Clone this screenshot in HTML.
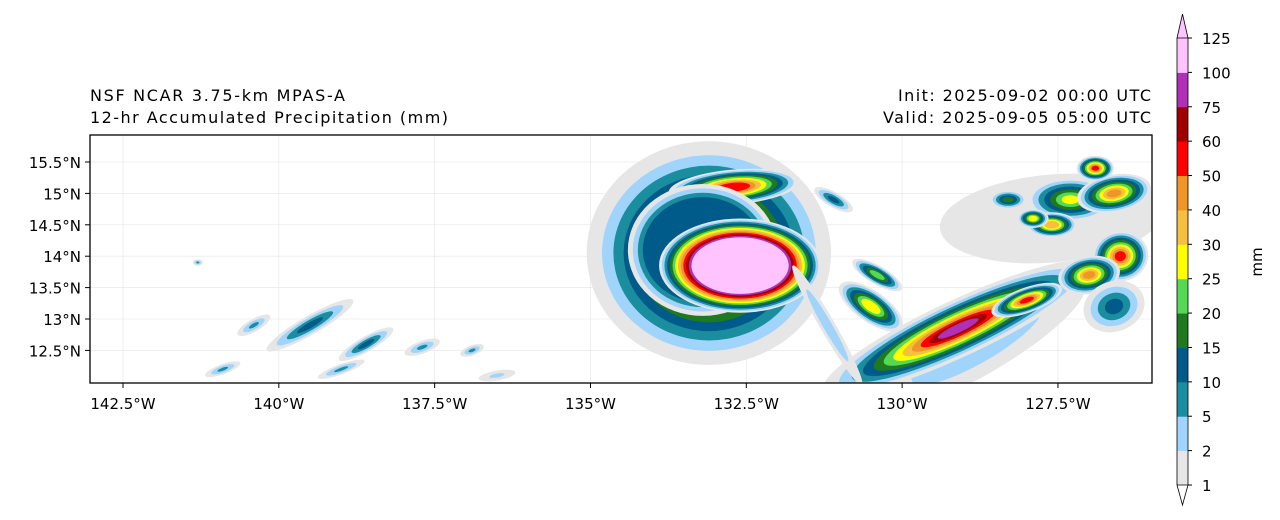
<!DOCTYPE html>
<html><head><meta charset="utf-8"><style>
body{margin:0;background:#fff;}
svg{display:block;font-family:"DejaVu Sans","Liberation Sans",sans-serif;}
</style></head><body>
<svg id="chart" width="1280" height="520" viewBox="0 0 1280 520">
<text x="90" y="101" font-size="16" textLength="255" lengthAdjust="spacing">NSF NCAR 3.75-km MPAS-A</text>
<text x="90" y="123" font-size="16" textLength="358" lengthAdjust="spacing">12-hr Accumulated Precipitation (mm)</text>
<text x="898" y="101" font-size="16" textLength="253" lengthAdjust="spacing">Init: 2025-09-02 00:00 UTC</text>
<text x="883" y="123" font-size="16" textLength="268" lengthAdjust="spacing">Valid: 2025-09-05 05:00 UTC</text>
<defs><clipPath id="mapclip"><rect x="90" y="135" width="1062" height="248"/></clipPath></defs>
<g id="grid"></g>
<g id="fields" clip-path="url(#mapclip)"></g>
<rect x="90" y="135" width="1062" height="248" fill="none" stroke="#000" stroke-width="1.3"/>
<g id="axes"></g>
<g id="cbar"></g>
<text x="1262" y="262" font-size="15" transform="rotate(-90 1262 262)" text-anchor="middle">mm</text>
</svg>
<script>
const levels=[1,2,5,10,15,20,25,30,40,50,60,75,100,125];
const colors=["#e6e6e6","#a0d4fa","#1a8e9e","#005a8a","#1f7a1f","#55d855","#ffff00","#f5c040","#f09628","#ff0000","#a00000","#b030b8","#ffc4ff","#ffc4ff"];
const lonTicks=[-142.5,-140,-137.5,-135,-132.5,-130,-127.5];
const lonLabels=["142.5°W","140°W","137.5°W","135°W","132.5°W","130°W","127.5°W"];
const latTicks=[15.5,15,14.5,14,13.5,13,12.5];
const latLabels=["15.5°N","15°N","14.5°N","14°N","13.5°N","13°N","12.5°N"];
// precipitation systems: center lon, lat, half-extent lon/lat (deg), tilt (deg), max color index, core fraction, falloff exponent
const blobLon=[-127.6,-128.8,-133.1,-132.7,-133.2,-132.6,-129.1,-128.0,-130.5,-127.3,-126.6,-127.6,-126.5,-127.0,-128.3,-127.9,-126.9,-126.6,-130.4,-131.1,-139.5,-138.6,-137.7,-140.4,-136.9,-141.3,-140.9,-139.0,-136.5,-131.2];
const blobLat=[14.6,12.6,14.05,15.1,14.1,13.85,12.85,13.3,13.2,14.9,15.0,14.5,14.0,13.7,14.9,14.6,15.4,13.2,13.7,14.9,12.9,12.6,12.55,12.9,12.5,13.9,12.2,12.2,12.1,12.9];
const blobRLon=[1.8,2.0,1.96,1.05,1.2,1.3,2.4,0.6,0.25,0.7,0.6,0.4,0.45,0.5,0.3,0.25,0.3,0.5,0.15,0.12,0.8,0.5,0.3,0.3,0.2,0.08,0.3,0.4,0.3,0.12];
const blobRLat=[0.7,0.5,1.78,0.28,1.05,0.75,0.45,0.2,0.6,0.35,0.3,0.2,0.4,0.3,0.15,0.15,0.2,0.4,0.45,0.35,0.15,0.12,0.1,0.1,0.08,0.05,0.08,0.08,0.08,1.1];
const blobTilt=[-5,-30,0,-5,0,0,-25,-20,-55,0,-10,0,-10,-10,0,0,0,-20,-60,-60,-30,-30,-20,-30,-20,0,-20,-20,-10,-30];
const blobMax=[0,1,4,9,3,12,11,9,6,6,8,7,9,8,4,6,9,3,5,3,3,3,2,2,2,2,2,2,1,1];
const blobCore=[1,0.6,0.62,0.25,0.8,0.6,0.15,0.2,0.3,0.2,0.2,0.3,0.2,0.2,0.3,0.3,0.2,0.3,0.3,0.3,0.3,0.3,0.3,0.3,0.3,0.3,0.3,0.3,0.4,0.6];
const blobPow=[1,1,0.8,1,1,1,0.8,1,1,1,1,1,1,1,1,1,1,1,1,1,1,1,1,1,1,1,1,1,1,1];

const X=lon=>123+(lon+142.5)*62.33;
const Y=lat=>162+(15.5-lat)*62.8;
const NS="http://www.w3.org/2000/svg";
function mk(tag,parent,attrs){const e=document.createElementNS(NS,tag);for(const k in attrs)e.setAttribute(k,attrs[k]);parent.appendChild(e);return e;}

const grid=document.getElementById('grid');
lonTicks.forEach(l=>{const g=mk('line',grid,{x1:X(l),x2:X(l),y1:135,y2:383,stroke:"#e4e4e4","stroke-width":0.6});

});
latTicks.forEach(l=>{const g=mk('line',grid,{x1:90,x2:1152,y1:Y(l),y2:Y(l),stroke:"#e4e4e4","stroke-width":0.6});

});

const fields=document.getElementById('fields');
for(let i=0;i<blobLon.length;i++){
  const g=mk('g',fields,{transform:`rotate(${blobTilt[i]} ${X(blobLon[i])} ${Y(blobLat[i])})`});
  
  
  const m=blobMax[i];
  for(let k=0;k<=m;k++){
    const f=m===0?1:1-(1-blobCore[i])*Math.pow(k/m,blobPow[i]);
    const e=mk('ellipse',g,{cx:X(blobLon[i]),cy:Y(blobLat[i]),rx:blobRLon[i]*62.33*f,ry:blobRLat[i]*62.8*f,fill:colors[k]});
    
    
  }
}

const axes=document.getElementById('axes');
lonTicks.forEach((l,i)=>{
  mk('line',axes,{x1:X(l),x2:X(l),y1:383,y2:388,stroke:"#000"});
  const t=mk('text',axes,{x:X(l),y:409,"font-size":15,"text-anchor":"middle"});t.textContent=lonLabels[i];
  
  
});
latTicks.forEach((l,i)=>{
  mk('line',axes,{x1:85,x2:90,y1:Y(l),y2:Y(l),stroke:"#000"});
  const t=mk('text',axes,{x:81,y:Y(l)+6,"font-size":15,"text-anchor":"end"});t.textContent=latLabels[i];
  
  
});

const cb=document.getElementById('cbar');
const cx0=1177,cw=11,cTop=38,cBot=485;
const step=(cBot-cTop)/(levels.length-1);
const CY=i=>cBot-i*step;
for(let i=0;i<levels.length-1;i++){
  const r=mk('rect',cb,{x:cx0,y:CY(i+1),width:cw,height:step+0.5,fill:colors[i]});
  
  
}
const cbTopTri=mk('polygon',cb,{points:`${cx0},${cTop} ${cx0+cw/2},14 ${cx0+cw},${cTop}`,fill:colors[13],stroke:"#000","stroke-width":0.8});


const cbBotTri=mk('polygon',cb,{points:`${cx0},${cBot} ${cx0+cw/2},505 ${cx0+cw},${cBot}`,fill:"#fff",stroke:"#000","stroke-width":0.8});


mk('polyline',cb,{points:`${cx0},${cTop} ${cx0},${cBot}`,stroke:"#000","stroke-width":0.8});
mk('polyline',cb,{points:`${cx0+cw},${cTop} ${cx0+cw},${cBot}`,stroke:"#000","stroke-width":0.8});
levels.forEach((v,i)=>{
  mk('line',cb,{x1:cx0+cw,x2:cx0+cw+4,y1:CY(i),y2:CY(i),stroke:"#000"});
  const t=mk('text',cb,{x:cx0+cw+14,y:CY(i)+6,"font-size":15});t.textContent=v;
  
  
});
</script>
</body></html>
